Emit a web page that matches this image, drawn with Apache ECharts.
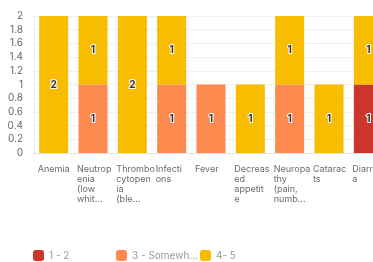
<!DOCTYPE html>
<html>
<head>
<meta charset="utf-8">
<script src="https://cdn.jsdelivr.net/npm/echarts@6/dist/echarts.min.js"></script>
<style>
  html, body { margin: 0; padding: 0; background: #fff; }
  #chart { width: 373px; height: 262px; }
</style>
</head>
<body>
<div id="chart"></div>
<script>
  "use strict";

  var categories = [
    "Anemia",
    "Neutrop\nenia\n(low\nwhit...",
    "Thrombo\ncytopen\nia\n(ble...",
    "Infecti\nons",
    "Fever",
    "Decreas\ned\nappetit\ne",
    "Neuropa\nthy\n(pain,\nnumb...",
    "Catarac\nts",
    "Diarrhe\na"
  ];
  var seriesNames = ["1 - 2", "3 - Somewh...", "4- 5"];
  var low = [0, 0, 0, 0, 0, 0, 0, 0, 1];
  var mid = [0, 1, 0, 1, 1, 0, 1, 0, 0];
  var high = [2, 1, 2, 1, 0, 1, 1, 1, 1];
  var yTicks = [0, 0.2, 0.4, 0.6, 0.8, 1, 1.2, 1.4, 1.6, 1.8, 2];

  var colors = ["#cc352c", "#fd8a4e", "#f8bc00"];
  var font = "Inter, 'Noto Sans', sans-serif";

  function zeroToNull(arr) {
    return arr.map(function(v) { return v === 0 ? null : v; });
  }

  function buildSeries(name, data) {
    return {
      name: name,
      type: "bar",
      stack: "total",
      barWidth: 29,
      data: zeroToNull(data),
      label: {
        show: true,
        position: "inside",
        color: "#333",
        fontSize: 10,
        fontWeight: "bold",
        fontFamily: font,
        textBorderColor: "#fff",
        textBorderWidth: 2
      }
    };
  }

  // one legend per series so the items sit at even spacing
  function buildLegend(name, left) {
    return {
      data: [name],
      left: left,
      top: 250,
      padding: 0,
      itemWidth: 11,
      itemHeight: 11,
      icon: "roundRect",
      textStyle: { color: "#999", fontSize: 10, fontFamily: font }
    };
  }

  var chart = echarts.init(document.getElementById("chart"), null, { renderer: "canvas" });

  chart.setOption({
    animation: false,
    color: colors,
    // the plot runs past the right edge of the window, as in the original
    grid: {
      left: 34,
      width: 354,
      top: 16,
      bottom: 109,
      containLabel: false,
      outerBoundsMode: "none"
    },
    legend: [
      buildLegend(seriesNames[0], 33),
      buildLegend(seriesNames[1], 116),
      buildLegend(seriesNames[2], 200)
    ],
    xAxis: {
      type: "category",
      data: categories,
      axisLine: { show: true, lineStyle: { color: "#e2e2e2" } },
      axisTick: { show: false },
      axisLabel: {
        interval: 0,
        color: "#6b6b6b",
        fontSize: 9,
        lineHeight: 10,
        fontFamily: font,
        margin: 11,
        align: "left",
        padding: [0, 0, 0, -16]
      }
    },
    yAxis: {
      type: "value",
      min: 0,
      max: 2,
      interval: 0.2,
      axisLine: { show: true, lineStyle: { color: "#f0f0f0" } },
      axisTick: { show: false },
      splitLine: { lineStyle: { color: "#f0f0f0" } },
      axisLabel: {
        color: "#666",
        fontSize: 10,
        fontFamily: font,
        margin: 11,
        formatter: function(v) {
          var t = yTicks.filter(function(x) { return Math.abs(x - v) < 1e-6; });
          return t.length ? String(t[0]) : "";
        }
      }
    },
    series: [
      buildSeries(seriesNames[0], low),
      buildSeries(seriesNames[1], mid),
      buildSeries(seriesNames[2], high)
    ]
  });
</script>
</body>
</html>
